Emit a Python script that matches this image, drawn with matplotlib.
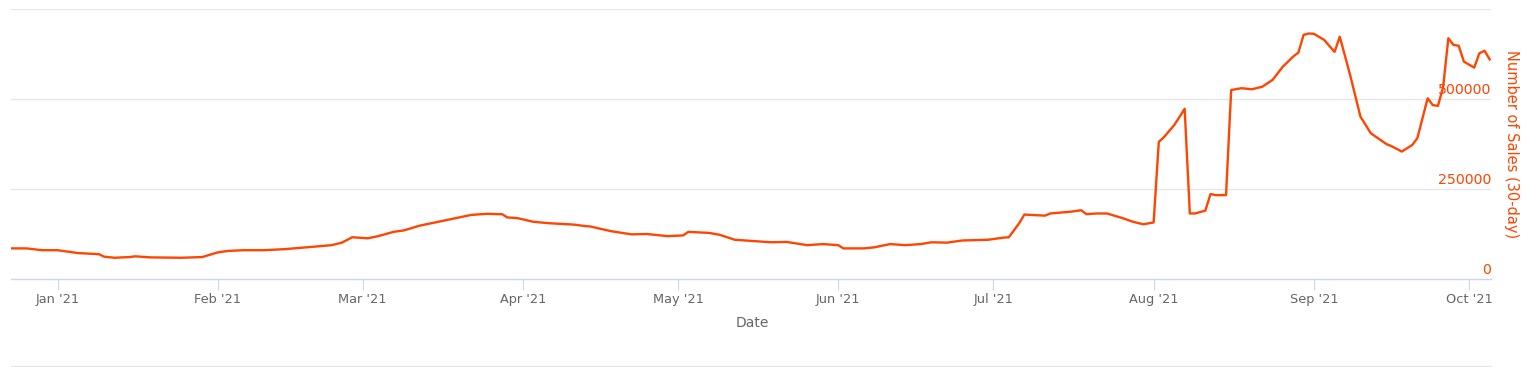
import matplotlib
matplotlib.use('Agg')
import matplotlib.pyplot as plt
import matplotlib.dates as mdates
import pandas as pd

# 30-day sales
dates = ['2020-12-23', '2020-12-26', '2020-12-29', '2021-01-01', '2021-01-05', '2021-01-09',
         '2021-01-10', '2021-01-12', '2021-01-15', '2021-01-16', '2021-01-19', '2021-01-25',
         '2021-01-29', '2021-02-01', '2021-02-03', '2021-02-06', '2021-02-10', '2021-02-14',
         '2021-02-19', '2021-02-23', '2021-02-25', '2021-02-27', '2021-03-02', '2021-03-04',
         '2021-03-07', '2021-03-09', '2021-03-12', '2021-03-15', '2021-03-18', '2021-03-22',
         '2021-03-25', '2021-03-28', '2021-03-29', '2021-03-31', '2021-04-03', '2021-04-06',
         '2021-04-11', '2021-04-13', '2021-04-14', '2021-04-18', '2021-04-22', '2021-04-25',
         '2021-04-29', '2021-05-02', '2021-05-03', '2021-05-07', '2021-05-09', '2021-05-12',
         '2021-05-15', '2021-05-19', '2021-05-22', '2021-05-26', '2021-05-29', '2021-06-01',
         '2021-06-02', '2021-06-06', '2021-06-08', '2021-06-11', '2021-06-14', '2021-06-17',
         '2021-06-19', '2021-06-22', '2021-06-25', '2021-06-30', '2021-07-03', '2021-07-04',
         '2021-07-06', '2021-07-07', '2021-07-11', '2021-07-12', '2021-07-16', '2021-07-18',
         '2021-07-19', '2021-07-21', '2021-07-23', '2021-07-26', '2021-07-28', '2021-07-30',
         '2021-08-01', '2021-08-02', '2021-08-03', '2021-08-05', '2021-08-06', '2021-08-07',
         '2021-08-08', '2021-08-09', '2021-08-11', '2021-08-12', '2021-08-13', '2021-08-15',
         '2021-08-16', '2021-08-18', '2021-08-20', '2021-08-22', '2021-08-24', '2021-08-26',
         '2021-08-28', '2021-08-29', '2021-08-30', '2021-08-31', '2021-09-01', '2021-09-03',
         '2021-09-04', '2021-09-05', '2021-09-06', '2021-09-08', '2021-09-10', '2021-09-12',
         '2021-09-15', '2021-09-16', '2021-09-18', '2021-09-20', '2021-09-21', '2021-09-23',
         '2021-09-24', '2021-09-25', '2021-09-26', '2021-09-27', '2021-09-28', '2021-09-29',
         '2021-09-30', '2021-10-02', '2021-10-03', '2021-10-04', '2021-10-05']
sales = [85000, 85000, 80000, 80000, 72000, 69000,
         62000, 59000, 61000, 63000, 60000, 59000,
         61000, 74000, 78000, 80000, 80000, 83000,
         89000, 94000, 101000, 116000, 113000, 119000,
         131000, 135000, 148000, 157000, 166000, 178000,
         181000, 180000, 171000, 169000, 159000, 155000,
         151000, 147000, 146000, 133000, 124000, 125000,
         119000, 121000, 131000, 128000, 123000, 109000,
         106000, 102000, 103000, 94000, 97000, 94000,
         85000, 85000, 88000, 97000, 94000, 97000,
         102000, 101000, 107000, 109000, 115000, 116000,
         155000, 179000, 176000, 182000, 187000, 191000,
         180000, 182000, 182000, 169000, 159000, 152000,
         157000, 381000, 394000, 428000, 450000, 473000,
         182000, 182000, 190000, 236000, 233000, 233000,
         525000, 530000, 527000, 534000, 553000, 590000,
         618000, 629000, 678000, 682000, 681000, 664000,
         647000, 631000, 673000, 567000, 451000, 405000,
         375000, 369000, 354000, 372000, 391000, 502000,
         483000, 481000, 534000, 669000, 650000, 648000,
         604000, 587000, 627000, 634000, 610000]

y_ticks = [0, 250000, 500000, 750000]
x_ticks = ['2021-01-01', '2021-02-01', '2021-03-01', '2021-04-01', '2021-05-01',
           '2021-06-01', '2021-07-01', '2021-08-01', '2021-09-01', '2021-10-01']

orange = '#FF4500'
grey_text = '#666666'
axis_col = '#ccd6eb'

W, H = 1527, 367
fig = plt.figure(figsize=(W / 100, H / 100), dpi=100)
ax = fig.add_axes([11 / W, 1 - 279 / H, 1480 / W, 270 / H])

x = pd.to_datetime(dates)
ax.plot(x, sales, color=orange, lw=1.7, solid_joinstyle='round')

ax.set_xlim(pd.Timestamp('2020-12-23'), pd.Timestamp('2021-10-05 06:00'))
ax.set_ylim(0, 750000)

for s in ['top', 'left', 'right']:
    ax.spines[s].set_visible(False)
ax.spines['bottom'].set_color(axis_col)
ax.spines['bottom'].set_linewidth(1)

# grid lines and y labels drawn inside the plot on the right
ax.set_yticks([])
for v in y_ticks[1:]:
    ax.axhline(v, color='#e6e6e6', lw=1, zorder=0)
for v in y_ticks[:-1]:
    ax.annotate(str(v), xy=(1, v), xycoords=('axes fraction', 'data'),
                xytext=(0, 1.5), textcoords='offset points',
                ha='right', va='bottom', color=orange, fontsize=10.2)

ax.set_xticks(pd.to_datetime(x_ticks))
ax.xaxis.set_major_formatter(mdates.DateFormatter("%b '%y"))
ax.tick_params(axis='x', length=8, color=axis_col, labelcolor=grey_text,
               labelsize=9.3, pad=2)

fig.text(752 / W, 1 - 323 / H, 'Date', ha='center', va='center',
         color=grey_text, fontsize=10)
fig.text(1511 / W, 1 - 144 / H, 'Number of Sales (30-day)', rotation=270,
         ha='center', va='center', color=orange, fontsize=10.5)

# thin border line at the bottom of the chart
fig.add_artist(plt.Line2D([11 / W, 1491 / W], [1.5 / H, 1.5 / H],
                          color='#e6e6e6', lw=1))

fig.savefig('out.png', dpi=100)
